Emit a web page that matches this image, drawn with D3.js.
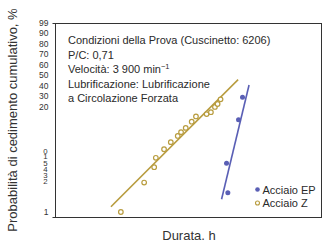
<!DOCTYPE html>
<html lang="it">
<head>
<meta charset="UTF-8">
<title>Probabilità di cedimento cumulativo</title>
<script src="https://d3js.org/d3.v7.min.js"></script>
<style>
    body { margin: 0; background: #fff; font-family: "Liberation Sans", Arial, sans-serif; }
    svg { display: block; }
    .tick text { fill: #333; font-size: 8.5px; }
    .tick text.small { font-size: 7.8px; }
    .note { fill: #2a2a2a; font-size: 11px; }
    .legend { fill: #2a2a2a; font-size: 11px; }
    .axis-title { fill: #333; font-size: 13px; }
</style>
</head>
<body>
<svg id="chart" width="329" height="240"></svg>
<script>
    // probabilità cumulativa (%) mostrata sull'asse y
    const yTicks = [1, 2, 3, 4, 5, 10, 20, 30, 40, 50, 60, 70, 80, 90, 99];

    // Acciaio Z: durata (h), probabilità (%)
    const zHours = [31.0, 46.4, 55.2, 56.8, 65.5, 73.6, 83.0, 87.9, 95.3, 105.7, 113.8, 136.9, 147.4, 158, 165.5, 174.2];
    const zProb  = [1.0, 1.95, 4.3, 7.9, 11.0, 12.5, 13.8, 14.6, 15.5, 16.8, 17.9, 18.4, 18.8, 19.9, 22.4, 26.8];
    const zFitHours = [26.1, 236.0];
    const zFitProb  = [1.17, 45.6];

    // Acciaio EP
    const epHours = [197.6, 193.2, 237.7, 254.7];
    const epProb  = [1.62, 4.95, 17.2, 28.7];
    const epFitHours = [177.3, 285.3];
    const epFitProb  = [1.41, 40.5];

    const noteLines = [
        'Condizioni della Prova (Cuscinetto: 6206)',
        'P/C: 0,71',
        'Velocità: 3 900 min',
        'Lubrificazione: Lubrificazione',
        'a Circolazione Forzata'
    ];

    const gold = '#b89c3e';
    const blue = '#5a5fb5';

    // plot box
    const box = { left: 55.5, top: 23.5, right: 321.5, bottom: 217.5 };
    // y position of each tick in yTicks (the scale is piecewise)
    const yRange = [212, 181, 175, 169, 163, 154, 106.5, 96, 85.5, 75, 64.5, 54, 43.5, 33, 22.5];

    const svg = d3.select('#chart');

    const x = d3.scaleLog().domain([10, 1000]).range([box.left, box.right]);
    const y = d3.scaleLinear().domain(yTicks).range(yRange);

    // frame
    svg.append('rect')
        .attr('x', box.left).attr('y', box.top)
        .attr('width', box.right - box.left).attr('height', box.bottom - box.top)
        .attr('fill', 'none').attr('stroke', '#333').attr('stroke-width', 1);
    svg.append('line')
        .attr('x1', box.left - 3).attr('x2', box.left).attr('y1', box.top).attr('y2', box.top)
        .attr('stroke', '#333');
    svg.append('line')
        .attr('x1', box.left - 3).attr('x2', box.left).attr('y1', box.bottom).attr('y2', box.bottom)
        .attr('stroke', '#333');

    // y axis labels
    const yAxis = svg.append('g')
        .attr('transform', `translate(${box.left},0)`)
        .call(d3.axisLeft(y).tickValues(yTicks).tickSize(0).tickPadding(7).tickFormat(d3.format('d')));
    yAxis.select('.domain').remove();
    yAxis.selectAll('.tick text').attr('font-family', null).attr('font-size', null);
    // the "10" label is printed with its digits stacked
    yAxis.selectAll('.tick').filter(d => d === 10).select('text')
        .text(null)
        .attr('class', 'small')
        .attr('text-anchor', 'middle')
        .attr('x', -10)
        .call(t => {
            t.append('tspan').attr('x', -10).attr('dy', '-0.1em').text('0');
            t.append('tspan').attr('x', -10).attr('dy', '0.72em').text('1');
        });
    yAxis.selectAll('.tick').filter(d => d <= 5 && d >= 2).select('text')
        .attr('class', 'small')
        .attr('text-anchor', 'middle').attr('x', -10);

    // axis titles
    svg.append('text')
        .attr('class', 'axis-title')
        .attr('transform', 'translate(17,120) rotate(-90)')
        .attr('text-anchor', 'middle')
        .text('Probabilità di cedimento cumulativo, %');

    svg.append('text')
        .attr('class', 'axis-title')
        .attr('x', 189).attr('y', 240)
        .attr('text-anchor', 'middle')
        .text('Durata, h');

    // test conditions
    const note = svg.append('g');
    noteLines.forEach((s, i) => {
        const t = note.append('text')
            .attr('class', 'note')
            .attr('x', 68).attr('y', 44 + i * 14.6)
            .text(s);
        if (i === 2) {
            t.append('tspan').attr('dy', -4).attr('font-size', '7.5px').text('−1');
        }
    });

    // fitted lines
    const line = d3.line().x(d => x(d[0])).y(d => y(d[1]));

    svg.append('path')
        .datum(d3.zip(zFitHours, zFitProb))
        .attr('d', line)
        .attr('fill', 'none').attr('stroke', gold).attr('stroke-width', 1.6);

    svg.append('path')
        .datum(d3.zip(epFitHours, epFitProb))
        .attr('d', line)
        .attr('fill', 'none').attr('stroke', blue).attr('stroke-width', 1.6);

    // points
    svg.append('g').selectAll('circle')
        .data(d3.zip(zHours, zProb))
        .join('circle')
        .attr('cx', d => x(d[0])).attr('cy', d => y(d[1]))
        .attr('r', 2.3)
        .attr('fill', '#fff').attr('stroke', gold).attr('stroke-width', 1.2);

    svg.append('g').selectAll('circle')
        .data(d3.zip(epHours, epProb))
        .join('circle')
        .attr('cx', d => x(d[0])).attr('cy', d => y(d[1]))
        .attr('r', 2.5)
        .attr('fill', blue);

    // legend
    const legend = svg.append('g').attr('transform', 'translate(257.5,189.5)');
    legend.append('circle').attr('r', 2.3).attr('fill', blue);
    legend.append('text').attr('class', 'legend').attr('x', 5).attr('y', 4).text('Acciaio EP');
    legend.append('circle').attr('cy', 13.5).attr('r', 2)
        .attr('fill', '#fff').attr('stroke', gold).attr('stroke-width', 1.1);
    legend.append('text').attr('class', 'legend').attr('x', 5).attr('y', 17.5).text('Acciaio Z');
</script>
</body>
</html>
